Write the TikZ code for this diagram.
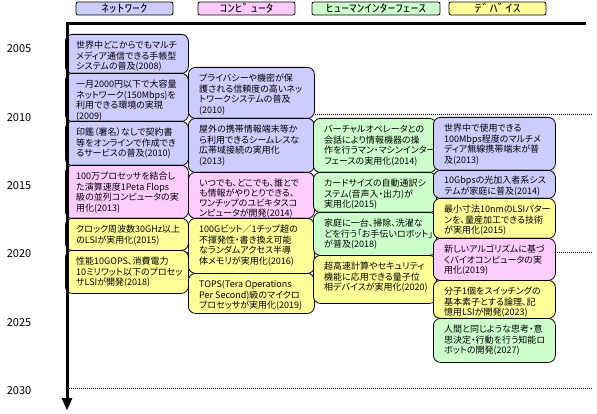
\documentclass[tikz,border=0pt]{standalone}
\usepackage{fontspec}
\newfontfamily\jp[RawFeature=+palt]{Noto Sans CJK JP}
\newfontfamily\jpn{Noto Sans CJK JP}
\usetikzlibrary{arrows.meta}
\definecolor{cblue}{HTML}{CCCCFF}
\definecolor{cpink}{HTML}{FFCCFF}
\definecolor{cyell}{HTML}{FFFF99}
\definecolor{cgreen}{HTML}{CCFFCC}
\tikzset{
  ebox/.style={draw=black, line width=0.8pt, rounded corners=7pt, inner sep=0pt, anchor=north west},
  etext/.style={inner sep=0pt, align=left, anchor=north west, font=\jp\fontsize{9}{10.5}\selectfont},
  hbox/.style={draw=black, line width=0.8pt, rounded corners=2pt, minimum height=13pt, inner sep=0pt, font=\jpn\fontsize{11}{11}\selectfont},
  yearlbl/.style={inner sep=0pt, font=\jpn\fontsize{11}{11}\selectfont},
  grid10/.style={line width=0.7pt, dash pattern={on 0.7pt off 1.3pt}}
}
\newcommand{\tlbox}[8][]{%
  \node[ebox, fill=#3, minimum width={#6pt-#4pt}, minimum height={#7pt-#5pt}] (#2) at (#4,#5) {};
  \node[etext, #1] (#2t) at (#4+11,#5+7) {#8};
}
\begin{document}
\begin{tikzpicture}[x=1pt,y=-1pt]
\useasboundingbox (0,0) rectangle (597,414);
% headers
\node[hbox, fill=cblue, minimum width=97pt] (hnet) at (124.5,8.5) {\scalebox{1.4}[1]{ﾈｯﾄﾜｰｸ}};
\node[hbox, fill=cpink, minimum width=97pt] (hcomp) at (246.5,8.5) {\scalebox{1.4}[1]{ｺﾝﾋﾟｭｰﾀ}};
\node[hbox, fill=cgreen, minimum width=128pt] (hhi) at (376,8.5) {\scalebox{1.4}[1]{ﾋｭｰﾏﾝｲﾝﾀｰﾌｪｰｽ}};
\node[hbox, fill=cyell, minimum width=97pt] (hdev) at (497.5,8.5) {\scalebox{1.4}[1]{ﾃﾞﾊﾞｲｽ}};
% years
\node[yearlbl] (y2005) at (19,49) {2005};
\node[yearlbl] (y2010) at (19,117.3) {2010};
\node[yearlbl] (y2015) at (19,185.6) {2015};
\node[yearlbl] (y2020) at (19,253.9) {2020};
\node[yearlbl] (y2025) at (19,322.2) {2025};
\node[yearlbl] (y2030) at (19,390.5) {2030};
% grid lines
\coordinate (g10a) at (67,114.5); \coordinate (g10b) at (593,114.5);
\coordinate (g20a) at (67,252); \coordinate (g20b) at (593,252);
\coordinate (g30a) at (67,388.5); \coordinate (g30b) at (593,388.5);
\draw[grid10] (g10a) -- (g10b);
\draw[grid10] (g20a) -- (g20b);
\draw[grid10] (g30a) -- (g30b);
% column 1
\tlbox{a1}{cblue}{65}{34}{188}{73}{世界中どこからでもマルチ\\メディア通信できる手帳型\\システムの普及(2008)}
\tlbox{a2}{cblue}{65}{73}{188}{121}{一月2000円以下で大容量\\ネットワーク(150Mbps)を\\利用できる環境の実現\\(2009)}
\tlbox{a3}{cblue}{65}{121}{188}{165}{印鑑（署名）なしで契約書\\等をオンラインで作成でき\\るサービスの普及(2010)}
\tlbox{a4}{cpink}{65}{165}{188}{218}{100万プロセッサを結合し\\た演算速度1Peta Flops\\級の並列コンピュータの実\\用化(2013)}
\tlbox{a5}{cyell}{65}{218}{188}{250}{クロック周波数30GHz以上\\のLSIが実用化(2015)}
\tlbox{a6}{cyell}{65}{250}{188}{293}{性能10GOPS、消費電力\\10ミリワット以下のプロセッ\\サLSIが開発(2018)}
% column 2
\tlbox{b1}{cblue}{188}{67}{314}{118}{プライバシーや機密が保\\護される信頼度の高いネッ\\トワークシステムの普及\\(2010)}
\tlbox{b2}{cblue}{188}{118}{314}{172}{屋外の携帯情報端末等か\\ら利用できるシームレスな\\広帯域接続の実用化\\(2013)}
\tlbox[font=\jp\fontsize{9}{10}\selectfont]{b3}{cpink}{188}{172}{314}{218}{いつでも、どこでも、誰とで\\も情報がやりとりできる、\\ワンチップのユビキタスコ\\ンピュータが開発(2014)}
\tlbox{b4}{cyell}{188}{218}{314}{273}{100Gビット／1チップ超の\\不揮発性・書き換え可能\\なランダムアクセス半導\\体メモリが実用化(2016)}
\tlbox{b5}{cyell}{188}{273}{314}{313}{TOPS(Tera Operations\\Per Second)級のマイクロ\\プロセッサが実用化(2019)}
% column 3
\tlbox{c1}{cgreen}{313}{118}{436}{172}{バーチャルオペレータとの\\会話により情報機器の操\\作を行うマン・マシンインター\\フェースの実用化(2014)}
\tlbox{c2}{cgreen}{313}{172}{436}{212}{カードサイズの自動通訳シ\\ステム(音声入・出力)が\\実用化(2015)}
\tlbox{c3}{cgreen}{313}{212}{436}{255}{家庭に一台、掃除、洗濯な\\どを行う「お手伝いロボット」\\が普及(2018)}
\tlbox{c4}{cyell}{313}{255}{436}{303}{超高速計算やセキュリティ\\機能に応用できる量子位\\相デバイスが実用化(2020)}
% column 4
\tlbox{d1}{cblue}{433}{117}{555}{170}{世界中で使用できる\\100Mbps程度のマルチメ\\ディア無線携帯端末が普\\及(2013)}
\tlbox[yshift=1pt]{d2}{cblue}{433}{170}{555}{198}{10Gbpsの光加入者系シス\\テムが家庭に普及(2014)}
\tlbox{d3}{cyell}{433}{198}{555}{238}{最小寸法10nmのLSIパター\\ンを、量産加工できる技術\\が実用化(2015)}
\tlbox{d4}{cpink}{433}{238}{555}{280}{新しいアルゴリズムに基づ\\くバイオコンピュータの実\\用化(2019)}
\tlbox{d5}{cyell}{433}{280}{555}{318}{分子1個をスイッチングの\\基本素子とする論理、記\\憶用LSIが開発(2023)}
\tlbox{d6}{cgreen}{433}{318}{555}{362}{人間と同じような思考・意\\思決定・行動を行う知能ロ\\ボットの開発(2027)}
% axis
\coordinate (aend) at (586,23.3);
\coordinate (atop) at (67,23.3);
\coordinate (abase) at (67,399);
\coordinate (abot) at (67,410);
\coordinate (al) at (61.5,398);
\coordinate (ar) at (72.5,398);
\draw[line width=3pt, line join=miter] (aend) -- (atop) -- (abase);
\fill (al) -- (ar) -- (abot) -- cycle;
\end{tikzpicture}
\end{document}
